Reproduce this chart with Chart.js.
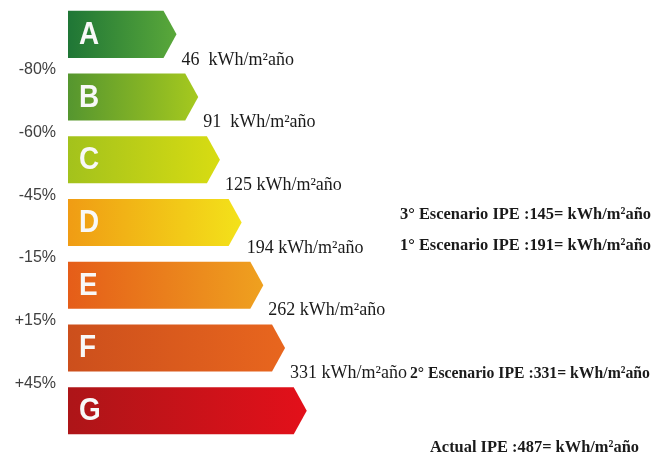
<!DOCTYPE html>
<html>
<head>
<meta charset="utf-8">
<script src="https://cdn.jsdelivr.net/npm/chart.js@4.4.0/dist/chart.umd.min.js"></script>
<style>
    html, body { margin: 0; padding: 0; background: #ffffff; }
    #wrap { width: 665px; height: 454px; position: relative; }
</style>
</head>
<body>
<div id="wrap"><canvas id="energyChart"></canvas></div>
<script>
// Data
const classes = ['A', 'B', 'C', 'D', 'E', 'F', 'G'];
const barLength = [5, 6, 7, 8, 9, 10, 11];
const limitLabels = ['46  kWh/m²año', '91  kWh/m²año', '125 kWh/m²año', '194 kWh/m²año', '262 kWh/m²año', '331 kWh/m²año'];
const savingLabels = ['-80%', '-60%', '-45%', '-15%', '+15%', '+45%'];
const scenarioLabels = ['3° Escenario IPE :145= kWh/m²año', '1° Escenario IPE :191= kWh/m²año', '2° Escenario IPE :331= kWh/m²año', 'Actual IPE :487= kWh/m²año'];
const scenarioClass = ['D', 'D', 'F', 'G'];

// Colours (left -> right of each arrow)
const colorsLeft = ['#1f7636', '#55962f', '#a3c21c', '#f09c14', '#e55d19', '#cc4f1c', '#ad1518'];
const colorsRight = ['#5aa83a', '#a6c91e', '#d8dc12', '#f3e21a', '#efa11f', '#e8661e', '#e3101a'];

const TIP = 13;

// Arrows, letters and texts drawn from the bar elements
const labelPlugin = {
    id: 'energyLabel',
    afterDatasetsDraw(chart) {
        const ctx = chart.ctx;
        const meta = chart.getDatasetMeta(0);
        const yScale = chart.scales.y;

        meta.data.forEach((bar, i) => {
            const p = bar.getProps(['x', 'y', 'base', 'height'], true);
            const top = p.y - p.height / 2;
            const bottom = p.y + p.height / 2;

            const grad = ctx.createLinearGradient(p.base, 0, p.x, 0);
            grad.addColorStop(0, colorsLeft[i]);
            grad.addColorStop(1, colorsRight[i]);

            ctx.save();
            ctx.beginPath();
            ctx.moveTo(p.base, top);
            ctx.lineTo(p.x - TIP, top);
            ctx.lineTo(p.x, p.y);
            ctx.lineTo(p.x - TIP, bottom);
            ctx.lineTo(p.base, bottom);
            ctx.closePath();
            ctx.fillStyle = grad;
            ctx.fill();

            // class letter
            ctx.translate(p.base + 11, p.y + 1);
            ctx.scale(0.9, 1);
            ctx.fillStyle = '#f8f8f8';
            ctx.font = 'bold 31px "Liberation Sans", Arial, sans-serif';
            ctx.textAlign = 'left';
            ctx.textBaseline = 'middle';
            ctx.fillText(classes[i], 0, 0);
            ctx.restore();

            // limit value next to the tip
            if (limitLabels[i]) {
                ctx.save();
                ctx.fillStyle = '#1a1a1a';
                ctx.font = '18px "Liberation Serif", "Times New Roman", serif';
                ctx.textAlign = 'left';
                ctx.textBaseline = 'middle';
                ctx.fillText(limitLabels[i], p.x + 5, bottom + 2);
                ctx.restore();
            }
        });

        // percentage labels between classes
        ctx.save();
        ctx.fillStyle = '#404040';
        ctx.font = '16px "Liberation Sans", Arial, sans-serif';
        ctx.textAlign = 'right';
        ctx.textBaseline = 'middle';
        savingLabels.forEach((txt, i) => {
            const yMid = (yScale.getPixelForValue(i) + yScale.getPixelForValue(i + 1)) / 2;
            ctx.fillText(txt, 56, yMid + 4);
        });
        ctx.restore();

        // scenarios
        const fBar = meta.data[classes.indexOf('F')].getProps(['x', 'y', 'height'], true);
        ctx.save();
        ctx.font = '18px "Liberation Serif", "Times New Roman", serif';
        const fLabelEnd = fBar.x + 5 + ctx.measureText(limitLabels[5]).width;
        ctx.restore();

        const scenarioPos = [
            { x: 400, dy: -8, w: 251 },
            { x: 400, dy: 23, w: 251 },
            { x: fLabelEnd + 3, dy: fBar.height / 2 + 2, w: 240 },
            { x: 430, dy: 37, w: 209 }
        ];

        ctx.save();
        ctx.fillStyle = '#1a1a1a';
        ctx.font = 'bold 17px "Liberation Serif", "Times New Roman", serif';
        ctx.textAlign = 'left';
        ctx.textBaseline = 'middle';
        scenarioLabels.forEach((txt, i) => {
            const pos = scenarioPos[i];
            const yc = yScale.getPixelForValue(classes.indexOf(scenarioClass[i])) + pos.dy;
            ctx.fillText(txt, pos.x, yc, pos.w);
        });
        ctx.restore();
    }
};

const ctx = document.getElementById('energyChart').getContext('2d');
const energyChart = new Chart(ctx, {
    type: 'bar',
    data: {
        labels: classes,
        datasets: [{
            data: barLength,
            backgroundColor: 'rgba(0,0,0,0)',
            borderWidth: 0,
            categoryPercentage: 1,
            barPercentage: 0.75
        }]
    },
    options: {
        indexAxis: 'y',
        responsive: true,
        maintainAspectRatio: false,
        animation: false,
        layout: { padding: { left: 68, right: 11, top: 3, bottom: 12 } },
        scales: {
            x: { display: false, min: 0, max: 27 },
            y: { display: false }
        },
        plugins: {
            legend: { display: false },
            tooltip: { enabled: false }
        }
    },
    plugins: [labelPlugin]
});
</script>
</body>
</html>
